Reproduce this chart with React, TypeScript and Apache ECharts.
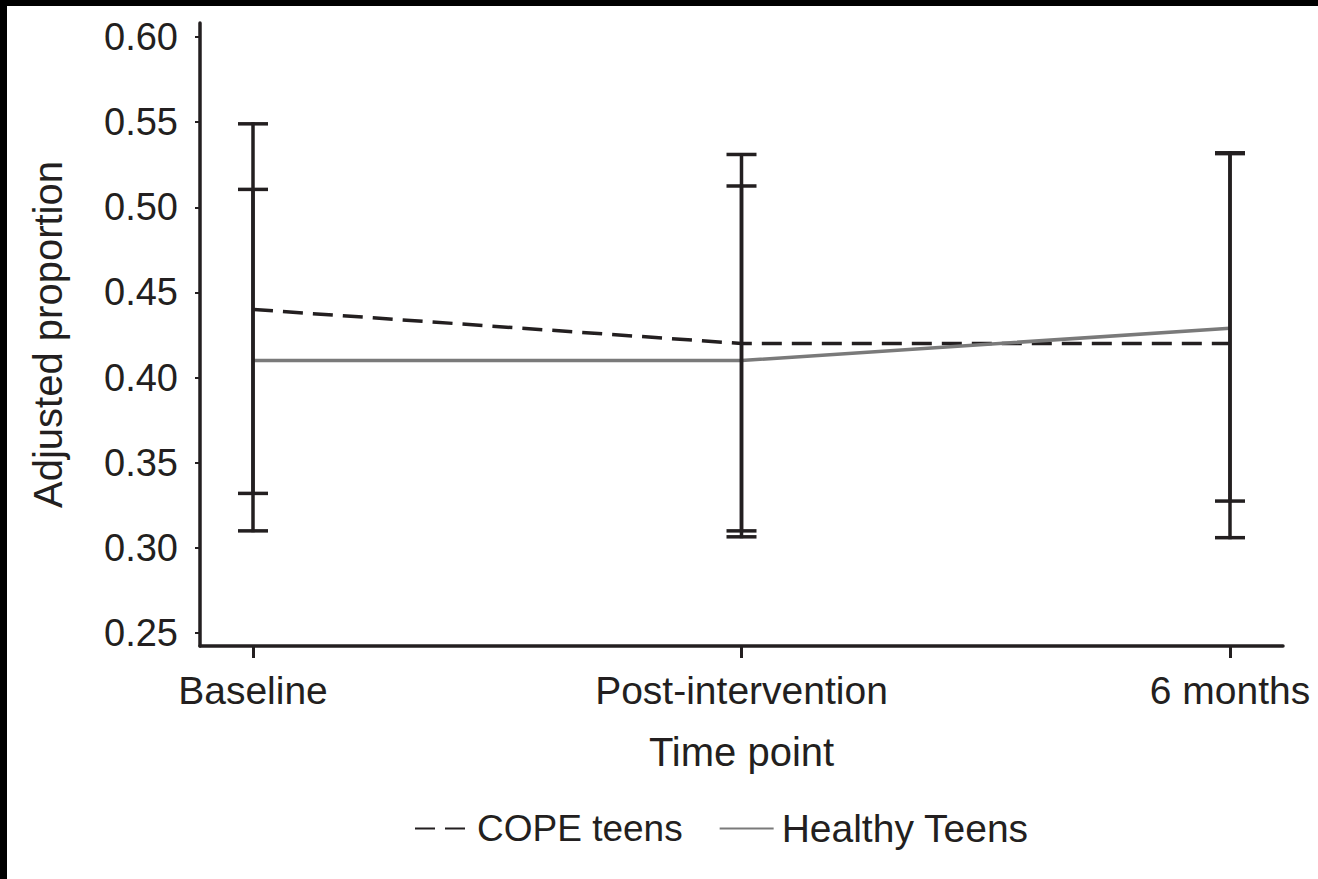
import React, { useEffect, useRef } from "react";
import * as echarts from "echarts";

const categories = ["Baseline", "Post-intervention", "6 months"];
const yTicks = [0.25, 0.3, 0.35, 0.4, 0.45, 0.5, 0.55, 0.6];

const copeMean = [0.44, 0.42, 0.42];
const copeLow = [0.332, 0.31, 0.306];
const copeHigh = [0.549, 0.531, 0.532];

const healthyMean = [0.41, 0.41, 0.429];
const healthyLow = [0.31, 0.3065, 0.3275];
const healthyHigh = [0.5105, 0.5125, 0.5315];

const INK = "#231f20";
const FONT = "'Liberation Sans', Arial, Helvetica, sans-serif";

function errorBarRender(params: any, api: any) {
  const x = api.value(0);
  const lo = api.coord([x, api.value(1)]);
  const hi = api.coord([x, api.value(2)]);
  const half = 15;
  const style = { stroke: INK, lineWidth: 3.5 };
  return {
    type: "group",
    children: [
      { type: "line", shape: { x1: lo[0], y1: lo[1] + 1.5, x2: hi[0], y2: hi[1] - 1.5 }, style },
      { type: "line", shape: { x1: hi[0] - half, y1: hi[1], x2: hi[0] + half, y2: hi[1] }, style },
      { type: "line", shape: { x1: lo[0] - half, y1: lo[1], x2: lo[0] + half, y2: lo[1] }, style },
    ],
  };
}

export default function App() {
  const ref = useRef<HTMLDivElement>(null);
  useEffect(() => {
    document.body.style.margin = "0";
    const chart = echarts.init(ref.current!, undefined, { renderer: "svg" });
    const idx = categories.map((_, i) => i);
    chart.setOption({
      animation: false,
      backgroundColor: "#ffffff",
      textStyle: { fontFamily: FONT, color: INK },
      graphic: [
        { type: "rect", shape: { x: 0, y: 0, width: 1318, height: 6 }, style: { fill: "#000" } },
        { type: "rect", shape: { x: 0, y: 0, width: 7, height: 879 }, style: { fill: "#000" } },
      ],
      grid: { left: 200, right: 35, top: 23, bottom: 233, containLabel: false, outerBoundsMode: "none" },
      legend: {
        data: [
          { name: "COPE teens", textStyle: { fontSize: 37 } },
          { name: "Healthy Teens", textStyle: { fontSize: 39 } },
        ],
        left: 409,
        top: 804,
        itemWidth: 54,
        itemHeight: 36,
        itemGap: 36,
        itemStyle: { opacity: 0 },
        textStyle: { fontSize: 37, fontFamily: FONT, color: INK, padding: [0, 0, 0, 3] },
      },
      xAxis: {
        type: "value",
        min: -0.1085,
        max: 2.1085,
        name: "Time point",
        nameLocation: "middle",
        nameGap: 86,
        nameTextStyle: { fontSize: 40, fontFamily: FONT, color: INK },
        splitLine: { show: false },
        axisLine: { onZero: false, lineStyle: { color: INK, width: 3.5 } },
        axisTick: { customValues: idx, length: 12, lineStyle: { color: INK, width: 3 } },
        axisLabel: {
          customValues: idx,
          formatter: (v: number) => categories[Math.round(v)] ?? "",
          fontSize: 39,
          fontFamily: FONT,
          color: INK,
          margin: 25,
        },
      },
      yAxis: {
        type: "value",
        min: 0.2424,
        max: 0.6082,
        name: "Adjusted proportion",
        nameLocation: "middle",
        nameGap: 132,
        nameTextStyle: { fontSize: 40, fontFamily: FONT, color: INK },
        splitLine: { show: false },
        axisLine: { show: true, onZero: false, lineStyle: { color: INK, width: 3.5 } },
        axisTick: { show: true, customValues: yTicks, length: 5, lineStyle: { color: INK, width: 2 } },
        axisLabel: {
          customValues: yTicks,
          formatter: (v: number) => v.toFixed(2),
          fontSize: 38,
          fontFamily: FONT,
          color: INK,
          margin: 22,
        },
      },
      series: [
        {
          name: "COPE teens",
          type: "line",
          symbol: "none",
          color: INK,
          lineStyle: { color: INK, width: 3.5, type: [20, 10] },
          data: copeMean.map((v, i) => [i, v]),
          z: 3,
        },
        {
          name: "Healthy Teens",
          type: "line",
          symbol: "none",
          color: "#7a7a7a",
          lineStyle: { color: "#7a7a7a", width: 3.5 },
          data: healthyMean.map((v, i) => [i, v]),
          z: 3,
        },
        {
          name: "copeErr",
          type: "custom",
          renderItem: errorBarRender,
          data: copeMean.map((_, i) => [i, copeLow[i], copeHigh[i]]),
          z: 4,
        },
        {
          name: "healthyErr",
          type: "custom",
          renderItem: errorBarRender,
          data: healthyMean.map((_, i) => [i, healthyLow[i], healthyHigh[i]]),
          z: 4,
        },
      ],
    });
    return () => chart.dispose();
  }, []);
  return <div ref={ref} style={{ width: 1318, height: 879 }} />;
}
